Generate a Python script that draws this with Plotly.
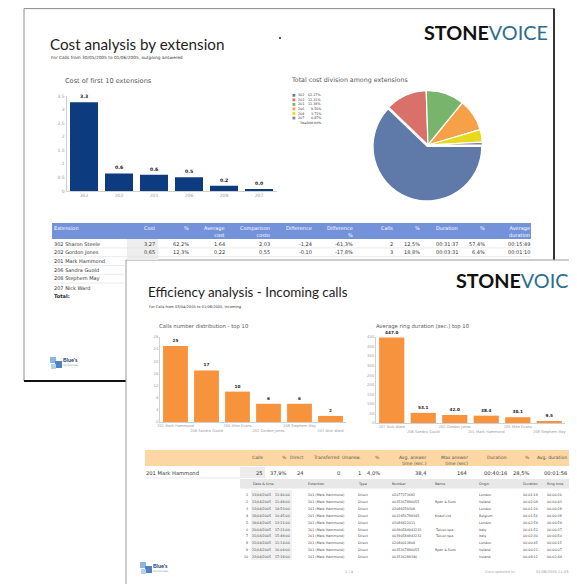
import plotly.graph_objects as go

# The page body adds an 8px margin, so the figure is 8px smaller and coordinates are shifted.
OFF = 8
W, H = 577 - OFF, 584 - OFF
def X(p): return (p - OFF) / W
def Y(p): return 1 - (p - OFF) / H

DV = "DejaVu Sans"
LT = "Lato"

# ---------------- data ----------------
ext_codes = ["302", "202", "201", "206", "208", "207"]
ext_cost = [3.27, 0.647, 0.599, 0.503, 0.195, 0.046]
ext_share = [62.17, 12.31, 11.38, 9.56, 3.71, 0.87]
pie_colors = ["#5f7aa8", "#d9706a", "#79b46c", "#f6a047", "#e8d91e", "#8c7dac"]

calls_names = ["201 Mark Hammond", "206 Sandra Guold", "205 Mike Evans",
               "202 Gordon Jones", "208 Stephem May", "207 Nick Ward"]
calls_counts = [25, 17, 10, 6, 6, 2]
ring_names = ["207 Nick Ward", "206 Sandra Guold", "202 Gordon Jones",
              "201 Mark Hammond", "205 Mike Evans", "208 Stephem May"]
ring_secs = [447.0, 53.1, 42.0, 38.4, 30.1, 9.5]

cost_header = ["Cost", "%", "Average<br>cost", "Comparison<br>costo", "Difference",
               "Difference<br>%", "Calls", "%", "Duration", "%", "Average<br>duration"]
cost_row_names = ["302 Sharon Steele", "202 Gordon Jones", "201 Mark Hammond",
                  "206 Sandra Guold", "208 Stephem May", "207 Nick Ward"]
cost_row_302 = ["3,27", "62,2%", "1,64", "2,03", "-1,24", "-61,3%", "2", "12,5%", "00:31:37", "57,4%", "00:15:49"]
cost_row_202 = ["0,65", "12,3%", "0,22", "0,55", "-0,10", "-17,8%", "3", "18,8%", "00:03:31", "6,4%", "00:01:10"]

eff_header = ["Calls", "%", "Direct", "Transferred", "Unansw.", "%", "Avg. answer<br>time (sec.)",
              "Max answer<br>time (sec)", "Duration", "%", "Avg. duration"]
eff_name = "201 Mark Hammond"
eff_values = ["25", "37,9%", "24", "0", "1", "4,0%", "38,4", "164", "00:40:16", "28,5%", "00:01:56"]

detail_header = ["Date & time", "Extention", "Type", "Number", "Name", "Origin", "Duration", "Ring time"]
detail_dates = ["13/04/2005", "13/04/2005", "13/04/2005", "18/04/2005", "19/04/2005",
                "20/04/2005", "21/04/2005", "22/04/2005", "22/04/2005", "23/04/2005"]
detail_times = ["11:46:00", "11:49:00", "14:53:00", "10:45:00", "13:21:00",
                "17:31:00", "15:49:00", "11:14:00", "16:04:00", "17:18:00"]
detail_ext = ["201 (Mark Hammond)"] * 10
detail_type = ["Direct"] * 10
detail_numbers = ["02077373682", "0035367896055", "02089259309", "0032456789345", "02088422011",
                  "00390584943232", "00390584943232", "02080013808", "0035367896055", "003536289346"]
detail_names = ["", "Ryan & Sons", "", "Knauf Ltd", "", "Telcon spa", "Telcon spa", "", "Ryan & Sons", ""]
detail_origins = ["London", "Ireland", "London", "Belgium", "London", "Italy", "Italy", "London", "Ireland", "Ireland"]
detail_durations = ["00:01:19", "00:02:09", "00:01:26", "00:01:56", "00:02:59",
                    "00:01:52", "00:02:30", "00:00:45", "00:00:21", "00:08:12"]
detail_rings = ["00:00:26", "00:00:43", "00:00:28", "00:00:38", "00:00:59",
                "00:00:37", "00:00:50", "00:00:15", "00:00:07", "00:02:44"]

# ---------------- helpers ----------------
ann = []
shapes = []

def T(x, y, s, size, color="#333", anchor="left", family=DV, yanchor="middle"):
    ann.append(dict(x=X(x), y=Y(y), xref="paper", yref="paper", text=s, showarrow=False,
                    xanchor=anchor, yanchor=yanchor, align=anchor,
                    font=dict(size=size, color=color, family=family),
                    borderpad=0, borderwidth=0))

def R(x0, y0, x1, y1, fill, line=None, lw=0):
    shapes.append(dict(type="rect", xref="paper", yref="paper", x0=X(x0), x1=X(x1),
                       y0=Y(y1), y1=Y(y0), fillcolor=fill,
                       line=dict(width=lw, color=line or fill), layer="below"))

def L(x0, y0, x1, y1, color, w=1):
    shapes.append(dict(type="line", xref="paper", yref="paper", x0=X(x0), x1=X(x1),
                       y0=Y(y0), y1=Y(y1), line=dict(width=w, color=color), layer="below"))

# ---------------- pages ----------------
R(24, 8.6, 554, 381, "white", "#8c8c8c", 1)
L(554, 8.6, 554, 260, "#111", 1.6)
L(24, 381, 126, 381, "#111", 2)
R(126, 260, 600, 600, "white", "#9a9a9a", 1)

# ---------------- back page texts ----------------
T(50, 44, "Cost analysis by extension", 15.2, "#1e1e1e", family=LT)
T(51, 57.5, "For Calls from 30/05/2005 to 01/06/2005, outgoing answered", 4.3, "#333")
shapes.append(dict(type="circle", xref="paper", yref="paper", x0=X(279), x1=X(281),
                   y0=Y(39), y1=Y(37), fillcolor="#222", line=dict(width=0)))
T(424, 32, "<b>STONE</b><span style='color:#2b6d8e'>VOICE</span>", 19.8, "#111", family=LT)
T(65, 81, "Cost of first 10 extensions", 6.6, "#555")
T(291, 80, "Total cost division among extensions", 6.3, "#555")

# pie legend (manual)
for i, (c, s, col) in enumerate(zip(ext_codes, ext_share, pie_colors)):
    yy = 95.3 + 4.55 * i
    R(292.5, yy - 1.4, 295.3, yy + 1.4, col)
    T(297.5, yy, c, 3.3, "#333")
    T(321, yy, f"{s:.2f}%", 3.3, "#333", anchor="right")
T(298.5, 95.3 + 4.55 * 6, "Total:", 3.2, "#333")
T(321, 95.3 + 4.55 * 6, f"{sum(ext_share):.2f}%", 3.2, "#333", anchor="right")

# back table
R(52, 223, 531, 239, "#7392da")
R(127, 239, 158, 260, "#eeeeee")
cost_x = [155, 189, 225, 270, 312, 353, 393, 420, 458, 485, 530]
T(54, 225, "Extension", 5, "white", yanchor="top")
for h, xx in zip(cost_header, cost_x):
    T(xx, 225, h, 5, "white", anchor="right", yanchor="top")
row_y = [243.5 + 8.8 * i for i in range(7)]
for i, nm in enumerate(cost_row_names):
    T(54, row_y[i], nm, 5, "#333")
T(54, row_y[6], "<b>Total:</b>", 5, "#222")
for vals, yy in zip([cost_row_302, cost_row_202], row_y[:2]):
    for v, xx in zip(vals, cost_x):
        T(xx, yy, v, 5, "#333", anchor="right")
for k in range(1, 3):
    L(52, row_y[k] - 4.4, 531, row_y[k] - 4.4, "#e2e2e2", 0.7)
for k in range(3, 6):
    L(52, row_y[k] - 4.4, 126, row_y[k] - 4.4, "#e2e2e2", 0.7)

# back logo
R(50, 357, 56, 363, "#8db6df")
R(55, 361, 62, 368, "#4f82c0")
R(51, 364, 56, 369, "#b7d1ec")
T(63, 360, "<b>Blue's</b>", 5.5, "#1d3b6e", family=LT)
T(63, 365.5, "PROFESSIONAL", 2, "#6b7f9c")

# ---------------- front page texts ----------------
T(148, 292, "Efficiency analysis - Incoming calls", 13.4, "#1e1e1e", family=LT)
T(149, 307, "For Calls from 03/04/2005 to 01/06/2005, incoming", 3.6, "#333")
T(456, 279.5, "<b>STONE</b><span style='color:#2b6d8e'>VOICE</span>", 19.8, "#111", family=LT)
T(159, 326, "Calls number distribution - top 10", 5.3, "#555")
T(376, 326, "Average ring duration (sec.) top 10", 5.3, "#555")

# efficiency summary table
R(145, 450, 600, 466, "#fdd7a3")
eff_x = [263, 287, 304, 340, 361, 380, 427, 468, 507, 530, 567]
for h, xx in zip(eff_header, eff_x):
    T(xx, 454.5, h, 4.5, "#555", anchor="right", yanchor="top")
R(240, 467, 265, 478, "#ececec")
L(145, 478, 240, 478, "#dddddd", 0.7)
T(146, 472.5, eff_name, 5.2, "#333")
for v, xx in zip(eff_values, eff_x):
    T(xx, 472.5, v, 5.2, "#333", anchor="right")

# detail table
R(240, 479, 600, 488.5, "#e8e8e8")
R(251, 490, 292, 560, "#f1f1f1")
det_x = [253, 308, 358, 392, 435, 479, 523, 547]
for h, xx in zip(detail_header, det_x):
    T(xx, 484, h, 3.4, "#444")
cols = [detail_ext, detail_type, detail_numbers, detail_names, detail_origins, detail_durations, detail_rings]
for i in range(10):
    yy = 495 + 6.9 * i
    T(248, yy, str(i + 1), 3.3, "#444", anchor="right")
    T(252, yy, detail_dates[i], 3.3, "#444")
    T(275, yy, detail_times[i], 3.3, "#444")
    for col, xx in zip(cols, det_x[1:]):
        if col[i]:
            T(xx, yy, col[i], 3.3, "#444")

# front footer
R(140, 562, 146, 568, "#8db6df")
R(145, 566, 152, 573, "#4f82c0")
R(141, 569, 146, 574, "#b7d1ec")
T(153, 565.5, "<b>Blue's</b>", 5.5, "#1d3b6e", family=LT)
T(153, 571, "PROFESSIONAL", 2, "#6b7f9c")
T(349, 572, "1 / 4", 3.6, "#999", anchor="center")
T(485, 572, "Data updated to:", 3.6, "#aaa")
T(575, 572, "01/06/2005 11:03:34", 3.6, "#999", anchor="right")

# ---------------- traces ----------------
fig = go.Figure()
fig.add_trace(go.Bar(x=ext_codes, y=ext_cost, marker=dict(color="#0c3b80", line=dict(width=0)),
                     texttemplate="<b>%{y:.1f}</b>", textposition="outside", cliponaxis=False,
                     textfont=dict(size=4.6, color="#222", family=DV),
                     xaxis="x", yaxis="y", showlegend=False, hoverinfo="skip"))
fig.add_trace(go.Pie(labels=ext_codes, values=ext_share, sort=False, direction="clockwise",
                     rotation=90, marker=dict(colors=pie_colors, line=dict(color="white", width=1.2)),
                     pull=[0.03, 0, 0, 0, 0, 0], textinfo="none", showlegend=False, hoverinfo="skip",
                     domain=dict(x=[X(372), X(484)], y=[Y(201), Y(89)])))
fig.add_trace(go.Bar(x=calls_names, y=calls_counts, marker=dict(color="#f7923d", line=dict(width=0)),
                     texttemplate="<b>%{y}</b>", textposition="outside", cliponaxis=False,
                     textfont=dict(size=4.2, color="#222", family=DV),
                     xaxis="x3", yaxis="y3", showlegend=False, hoverinfo="skip"))
fig.add_trace(go.Bar(x=ring_names, y=ring_secs, marker=dict(color="#f7923d", line=dict(width=0)),
                     texttemplate="<b>%{y:.1f}</b>", textposition="outside", cliponaxis=False,
                     textfont=dict(size=4.2, color="#222", family=DV),
                     xaxis="x4", yaxis="y4", showlegend=False, hoverinfo="skip"))

def stagger(names):
    return [n if i % 2 == 0 else "<br>" + n for i, n in enumerate(names)]

ax_common = dict(showgrid=False, zeroline=False, showline=True, linecolor="#d0d0d0",
                 linewidth=0.8, ticks="", fixedrange=True, automargin=False)
tickf = dict(size=4.5, color="#999", family=DV)

fig.update_layout(
    width=W, height=H, margin=dict(l=0, r=0, t=0, b=0, pad=0, autoexpand=False),
    paper_bgcolor="white", plot_bgcolor="rgba(0,0,0,0)",
    bargap=0.2, showlegend=False,
    xaxis=dict(domain=[X(66.5), X(276.5)], anchor="y", tickfont=tickf, tickangle=0, **ax_common),
    yaxis=dict(domain=[Y(191), Y(96)], anchor="x", range=[0, 3.5], dtick=0.5,
               tickfont=tickf, **ax_common),
    xaxis3=dict(domain=[X(160), X(346)], anchor="y3", tickfont=dict(size=3.6, color="#999", family=DV),
                tickangle=0, tickmode="array", tickvals=calls_names, ticktext=stagger(calls_names), **ax_common),
    yaxis3=dict(domain=[Y(422), Y(337)], anchor="x3", range=[0, 28], dtick=4,
                tickfont=dict(size=3.8, color="#999", family=DV), **ax_common),
    xaxis4=dict(domain=[X(376), X(565)], anchor="y4", tickfont=dict(size=3.6, color="#999", family=DV),
                tickangle=0, tickmode="array", tickvals=ring_names, ticktext=stagger(ring_names), **ax_common),
    yaxis4=dict(domain=[Y(423), Y(337)], anchor="x4", range=[0, 450], dtick=50,
                tickfont=dict(size=3.8, color="#999", family=DV), **ax_common),
    annotations=ann, shapes=shapes,
)
fig.write_html("out.html")
